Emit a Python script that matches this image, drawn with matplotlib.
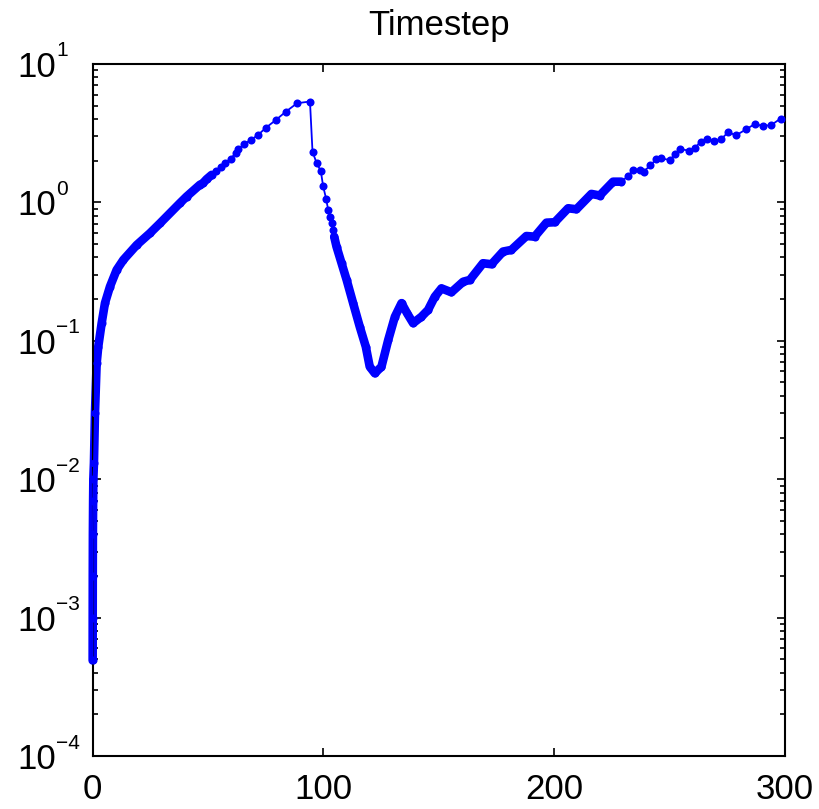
import matplotlib
matplotlib.use("Agg")
import matplotlib.pyplot as plt
import matplotlib.transforms as mtrans
import numpy as np
from matplotlib.ticker import LogLocator, NullFormatter, FixedLocator

# time (x) and timestep size (y)
# early ramp-up: markers packed so tightly they form a solid band
t_rise = [0.0, 0.02, 0.05, 0.1, 0.2, 0.3, 0.56, 1.0, 1.73, 2.43, 3.9, 5.33,
          7.5, 10.4, 13.3, 19.1, 24.8, 29.2, 37.8, 40.7, 46.5, 47.7, 49.4]
dt_rise = [4.9e-4, 1.0e-3, 2.0e-3, 4.0e-3, 7.0e-3, 1.0e-2, 1.31e-2, 3.0e-2,
           6.87e-2, 9.06e-2, 0.134, 0.187, 0.246, 0.325, 0.384, 0.492, 0.598,
           0.706, 0.986, 1.10, 1.34, 1.37, 1.47]

# peak and sharp drop: individual markers visible
t_peak = [51.6, 53.4, 55.5, 57.3, 59.8, 62.1, 63.1, 65.7, 68.7, 71.8, 75.2,
          79.3, 83.6, 88.6, 94.2, 95.3, 97.1, 98.9, 99.9, 101.2, 102.1, 102.8,
          103.6, 104.2, 104.7]
dt_peak = [1.58, 1.69, 1.79, 1.92, 2.07, 2.27, 2.42, 2.64, 2.83, 3.08, 3.47,
           3.92, 4.50, 5.20, 5.35, 2.32, 1.92, 1.68, 1.31, 1.06, 0.881, 0.780,
           0.706, 0.632, 0.565]

# dip and oscillating recovery: dense band again
t_dip = [105.7, 107.9, 110.1, 112.9, 115.8, 118.4, 120.1, 122.3, 125.2, 128.1,
         131.0, 133.9, 136.3, 138.9, 142.5, 145.4, 148.3, 151.2, 155.5, 160.6,
         163.5, 169.2, 172.9, 177.9, 181.5, 188.0, 191.6, 196.7, 200.3, 206.1,
         209.7, 216.2, 219.8, 225.6]
dt_dip = [0.479, 0.363, 0.275, 0.187, 0.126, 0.0906, 0.065, 0.0582, 0.065,
          0.101, 0.149, 0.187, 0.158, 0.134, 0.149, 0.167, 0.208, 0.239, 0.224,
          0.267, 0.275, 0.363, 0.357, 0.441, 0.453, 0.571, 0.565, 0.713, 0.718,
          0.906, 0.891, 1.15, 1.12, 1.41]

# tail: markers spread out again
t_tail = [229.2, 232.1, 234.2, 237.1, 239.0, 241.8, 244.4, 246.5, 250.1, 252.6,
          254.8, 258.4, 261.0, 263.6, 266.5, 269.5, 272.4, 275.5, 278.9, 283.4,
          287.0, 290.6, 294.2, 298.2]
dt_tail = [1.41, 1.55, 1.71, 1.71, 1.67, 1.86, 2.05, 2.08, 2.02, 2.23, 2.43,
           2.36, 2.46, 2.75, 2.86, 2.79, 2.86, 3.21, 3.05, 3.38, 3.68, 3.56,
           3.62, 4.03]

x_ticks = [0, 100, 200, 300]
y_exps = [-4, -3, -2, -1, 0, 1]

BLUE = "#0000FF"

plt.rcParams["font.family"] = ["Liberation Sans", "DejaVu Sans"]

fig = plt.figure(figsize=(8.2, 8.09), dpi=100)
ax = fig.add_axes([0.113, 0.0655, 0.844, 0.8555])

t_all = t_rise + t_peak + t_dip + t_tail
dt_all = dt_rise + dt_peak + dt_dip + dt_tail

# thick band where the markers overlap
for tt, dd in [(t_rise + t_peak[:1], dt_rise + dt_peak[:1]),
               (t_peak[-1:] + t_dip + t_tail[:1], dt_peak[-1:] + dt_dip + dt_tail[:1])]:
    ax.plot(tt, dd, color=BLUE, lw=6.2, solid_capstyle="round",
            solid_joinstyle="round", zorder=2, clip_on=False)

ax.plot(t_all, dt_all, color=BLUE, lw=1.3, marker="o", ms=5.8,
        markeredgewidth=0, zorder=3, clip_on=False)

ax.set_yscale("log")
ax.set_xlim(0, 300)
ax.set_ylim(1e-4, 1e1)
ax.xaxis.set_major_locator(FixedLocator(x_ticks))
ax.yaxis.set_major_locator(FixedLocator([10.0 ** e for e in y_exps]))
ax.yaxis.set_minor_locator(LogLocator(base=10, subs=np.arange(2, 10), numticks=20))
ax.yaxis.set_minor_formatter(NullFormatter())

ax.tick_params(which="both", direction="in", top=True, right=True,
               labelsize=25, width=1.2, colors="black")
ax.tick_params(which="major", length=6)
ax.tick_params(which="minor", length=3.5)
ax.tick_params(axis="x", pad=12)
ax.tick_params(axis="y", pad=54)

# MATLAB style: "10" aligned left, exponent set as a raised small text
ax.set_yticklabels(["10"] * len(y_exps))
for lab in ax.get_yticklabels():
    lab.set_ha("left")
exp_tr = mtrans.blended_transform_factory(ax.transAxes, ax.transData)
for e in y_exps:
    ax.text(-0.053, 10.0 ** e, str(e).replace("-", "\u2212"), fontsize=15,
            ha="left", va="baseline",
            transform=exp_tr + mtrans.ScaledTranslation(0, 5.4 / 72, fig.dpi_scale_trans))

for s in ax.spines.values():
    s.set_linewidth(1.5)

ax.set_title("Timestep", fontsize=25, pad=21)

fig.savefig("out.png", dpi=100, facecolor="white")
